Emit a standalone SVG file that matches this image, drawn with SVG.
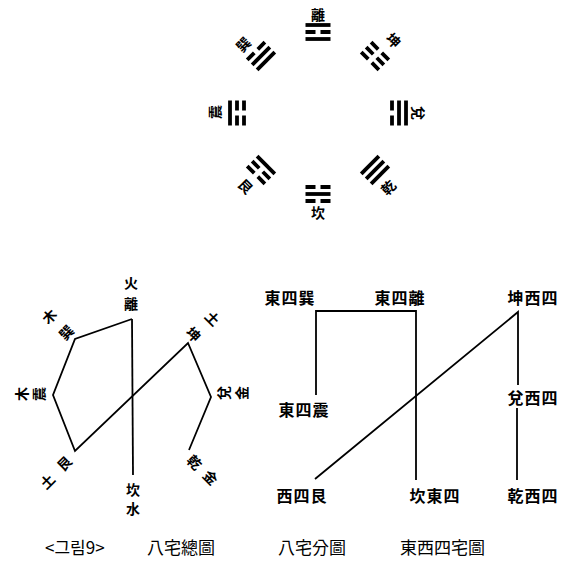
<svg xmlns="http://www.w3.org/2000/svg" width="577" height="568" viewBox="0 0 577 568">
<style>
.tl{stroke:#000;stroke-width:3.8;fill:none;stroke-linecap:butt}
.ln{stroke:#000;stroke-width:1.8;fill:none;stroke-linejoin:miter}
.t{font-family:"Noto Sans CJK TC","Noto Sans CJK KR",sans-serif;fill:#000;text-anchor:middle;dominant-baseline:central;font-weight:bold}
.b{font-size:14px}
.s{font-size:14px}
.r{font-size:16px;letter-spacing:1px}
.c{font-family:"Noto Sans CJK KR","Noto Sans CJK TC",sans-serif;font-size:17px;fill:#000}
</style>
<defs>
<line id="yang" x1="-12.5" y1="0" x2="12.5" y2="0" class="tl"/>
<path id="yin" d="M-12.5 0H-2.5M2.5 0H12.5" class="tl"/>
</defs>
<rect width="577" height="568" fill="#fff"/>

<!-- Bagua: trigram lines; local y=-7 outer (bottom line), 0 middle, 7 inner (top line) -->
<g id="tri-li" transform="translate(318,32) rotate(0)"><use href="#yang" y="-7"/><use href="#yin" y="0"/><use href="#yang" y="7"/></g>
<g id="tri-kun" transform="translate(375,56) rotate(45)"><use href="#yin" y="-7"/><use href="#yin" y="0"/><use href="#yin" y="7"/></g>
<g id="tri-dui" transform="translate(399,113) rotate(90)"><use href="#yang" y="-7"/><use href="#yang" y="0"/><use href="#yin" y="7"/></g>
<g id="tri-qian" transform="translate(375,170) rotate(135)"><use href="#yang" y="-7"/><use href="#yang" y="0"/><use href="#yang" y="7"/></g>
<g id="tri-kan" transform="translate(318,194) rotate(180)"><use href="#yin" y="-7"/><use href="#yang" y="0"/><use href="#yin" y="7"/></g>
<g id="tri-gen" transform="translate(261,170) rotate(225)"><use href="#yin" y="-7"/><use href="#yin" y="0"/><use href="#yang" y="7"/></g>
<g id="tri-zhen" transform="translate(237,113) rotate(270)"><use href="#yang" y="-7"/><use href="#yin" y="0"/><use href="#yin" y="7"/></g>
<g id="tri-xun" transform="translate(261,56) rotate(315)"><use href="#yin" y="-7"/><use href="#yang" y="0"/><use href="#yang" y="7"/></g>

<g id="bagua-labels">
<text class="t b" transform="translate(318,14)">離</text>
<text class="t b" transform="translate(394,40) rotate(45)">坤</text>
<text class="t b" transform="translate(419,113) rotate(90)">兌</text>
<text class="t b" transform="translate(388,187) rotate(-45)">乾</text>
<text class="t b" transform="translate(318,212)">坎</text>
<text class="t b" transform="translate(246,186) rotate(45)">艮</text>
<text class="t b" transform="translate(214,112) rotate(-90)">震</text>
<text class="t b" transform="translate(243,44) rotate(-45)">巽</text>
</g>

<!-- Connectors -->
<g id="connectors">
<polyline class="ln" points="132,319 75,339 53,395 75,451 188,343 211,397 189,450"/>
<line class="ln" x1="132" y1="319" x2="133" y2="475"/>
<polyline class="ln" points="316,395 316,311 416,311 416,480"/>
<polyline class="ln" points="315,479 518,312 518,385"/>
<line class="ln" x1="517" y1="408" x2="517" y2="480"/>
</g>

<!-- 八宅總圖 labels -->
<g id="n-li"><text class="t s" transform="translate(131,282)">火</text><text class="t s" transform="translate(131,303)">離</text></g>
<g id="n-xun"><text class="t s" transform="translate(49,316) rotate(-45)">木</text><text class="t s" transform="translate(66,332) rotate(-45)">巽</text></g>
<g id="n-zhen"><text class="t s" transform="translate(21,394) rotate(-90)">木</text><text class="t s" transform="translate(38,394) rotate(-90)">震</text></g>
<g id="n-gen"><text class="t s" transform="translate(47,481) rotate(-45)">土</text><text class="t s" transform="translate(64,463) rotate(-45)">艮</text></g>
<g id="n-kan"><text class="t s" transform="translate(133,489)">坎</text><text class="t s" transform="translate(133,508)">水</text></g>
<g id="n-qian"><text class="t s" transform="translate(195,462) rotate(45)">乾</text><text class="t s" transform="translate(211,477) rotate(45)">金</text></g>
<g id="n-dui"><text class="t s" transform="translate(223,393) rotate(-90)">兌</text><text class="t s" transform="translate(241,393) rotate(-90)">金</text></g>
<g id="n-kun"><text class="t s" transform="translate(194,334) rotate(45)">坤</text><text class="t s" transform="translate(213,318) rotate(45)">土</text></g>

<!-- 東西四宅圖 labels -->
<g id="r-xun"><text class="t r" x="290" y="297">東四巽</text></g>
<g id="r-li"><text class="t r" x="400" y="297">東四離</text></g>
<g id="r-kun"><text class="t r" x="533" y="297">坤西四</text></g>
<g id="r-zhen"><text class="t r" x="304" y="409">東四震</text></g>
<g id="r-dui"><text class="t r" x="533" y="397">兌西四</text></g>
<g id="r-gen"><text class="t r" x="302" y="495">西四艮</text></g>
<g id="r-kan"><text class="t r" x="435" y="495">坎東四</text></g>
<g id="r-qian"><text class="t r" x="533" y="495">乾西四</text></g>

<!-- Caption -->
<g id="caption">
<text class="c" x="45" y="554">&lt;그림9&gt;</text>
<text class="c" x="147" y="554">八宅總圖</text>
<text class="c" x="278" y="554">八宅分圖</text>
<text class="c" x="400" y="554">東西四宅圖</text>
</g>
</svg>
